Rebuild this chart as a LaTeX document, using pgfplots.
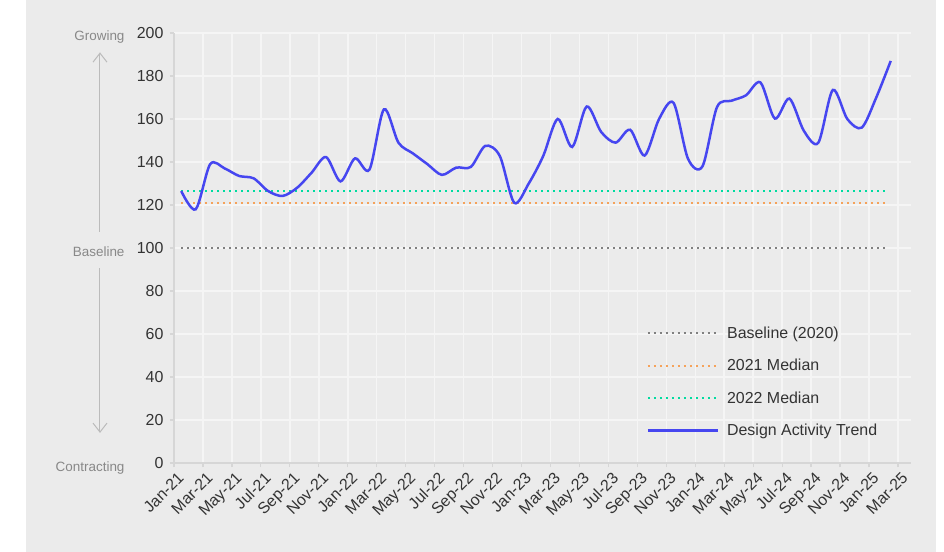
\documentclass[border=0pt]{standalone}
\usepackage{fontspec}
\setmainfont{Liberation Sans}
\usepackage{pgfplots}
\usepackage{pgfplotstable}
\pgfplotsset{compat=1.18}
\usetikzlibrary{arrows.meta}
\definecolor{bgc}{HTML}{EBEBEB}
\definecolor{gridc}{HTML}{F5F5F5}
\definecolor{spinec}{HTML}{D6D6D6}
\definecolor{tickc}{HTML}{333333}
\definecolor{annc}{HTML}{888888}
\definecolor{arrc}{HTML}{BBBBBB}
\definecolor{trend}{HTML}{4646F0}
\definecolor{orangec}{HTML}{F5A25A}
\definecolor{greenc}{HTML}{00DBA0}
\definecolor{grayc}{HTML}{808080}

\pgfplotstableread{
m v
0.5 126.5
1.5 118
2.5 139
3.5 137
4.5 133.5
5.5 132.4
6.5 126.5
7.5 124.2
8.5 128
9.5 135
10.5 142.3
11.5 131
12.5 141.7
13.5 136.5
14.5 164.5
15.5 149
16.5 144
17.5 139
18.5 134
19.5 137.4
20.5 137.7
21.5 147.5
22.5 142.8
23.5 121
24.5 130
25.5 142.8
26.5 160
27.5 147
28.5 165.8
29.5 154
30.5 149
31.5 155
32.5 143
33.5 160
34.5 167.5
35.5 141.5
36.5 138
37.5 165.5
38.5 168.5
39.5 171
40.5 177
41.5 160.2
42.5 169.5
43.5 154.5
44.5 149
45.5 173.5
46.5 160
47.5 156
48.5 170
49.5 187
}\trenddata

\begin{document}
\begin{tikzpicture}
\path[use as bounding box] (-174bp,-89bp) rectangle (770bp,463bp);
\fill[bgc] (-148bp,-89bp) rectangle (762bp,463bp);
\begin{axis}[
  scale only axis, width=737bp, height=430bp,
  xmin=0, xmax=50.9, ymin=0, ymax=200,
  axis x line*=bottom, axis y line*=left,
  axis line style={spinec, line width=1.5bp},
  clip=false,
  grid=major,
  major grid style={gridc, line width=1.5bp},
  tick align=outside,
  major tick length=4bp,
  tick style={spinec, line width=1.2bp},
  ytick={0,20,...,200},
  xtick={0,2,...,50},
  xticklabels={Jan-21,Mar-21,May-21,Jul-21,Sep-21,Nov-21,Jan-22,Mar-22,May-22,Jul-22,Sep-22,Nov-22,Jan-23,Mar-23,May-23,Jul-23,Sep-23,Nov-23,Jan-24,Mar-24,May-24,Jul-24,Sep-24,Nov-24,Jan-25,Mar-25},
  /pgf/number format/assume math mode=true,
  yticklabel style={font=\fontsize{16}{19}\selectfont, text=tickc, xshift=-3bp},
  xticklabel style={font=\fontsize{16}{19}\selectfont, text=tickc, rotate=45, anchor=north east, inner sep=1bp, yshift=-4bp},
  legend style={draw=none, fill=none, at={(rel axis cs:0.641,0.318)}, anchor=north west,
    font=\fontsize{16}{19}\selectfont, text=tickc, row sep=19.5bp, inner sep=0pt,
    nodes={inner sep=0pt},
    /tikz/every odd column/.append style={column sep=8bp}},
  legend cell align=left,
  legend image code/.code={\draw[#1] (0bp,0bp) -- (70bp,0bp);},
]
\addplot[grayc, line width=2bp, dash pattern=on 2bp off 4bp] coordinates {(0.5,100) (49.3,100)};
\addlegendentry{Baseline (2020)}
\addplot[orangec, line width=2bp, dash pattern=on 2bp off 4bp] coordinates {(0.5,121) (49.3,121)};
\addlegendentry{2021 Median}
\addplot[greenc, line width=2bp, dash pattern=on 2bp off 4bp] coordinates {(0.5,126.5) (49.3,126.5)};
\addlegendentry{2022 Median}
\addplot[trend, line width=2.5bp, smooth, tension=0.5] table[x=m, y=v] {\trenddata};
\addlegendentry{Design Activity Trend}

\node[anchor=east, text=annc, font=\fontsize{13.5}{16}\selectfont] at ([xshift=-46bp,yshift=-4bp]axis cs:0,200) {Growing};
\node[anchor=east, text=annc, font=\fontsize{13.5}{16}\selectfont] at ([xshift=-46bp,yshift=-4bp]axis cs:0,100) {Baseline};
\node[anchor=east, text=annc, font=\fontsize{13.5}{16}\selectfont] at ([xshift=-46bp,yshift=-5bp]axis cs:0,0) {Contracting};
\draw[arrc, line width=1bp, -{Straight Barb[length=9bp,width=14bp]}] ([xshift=-74bp]axis cs:0,107.5) -- ([xshift=-74bp]axis cs:0,191);
\draw[arrc, line width=1bp, -{Straight Barb[length=9bp,width=14bp]}] ([xshift=-74bp]axis cs:0,90.5) -- ([xshift=-74bp]axis cs:0,14);
\end{axis}
\end{tikzpicture}
\end{document}
